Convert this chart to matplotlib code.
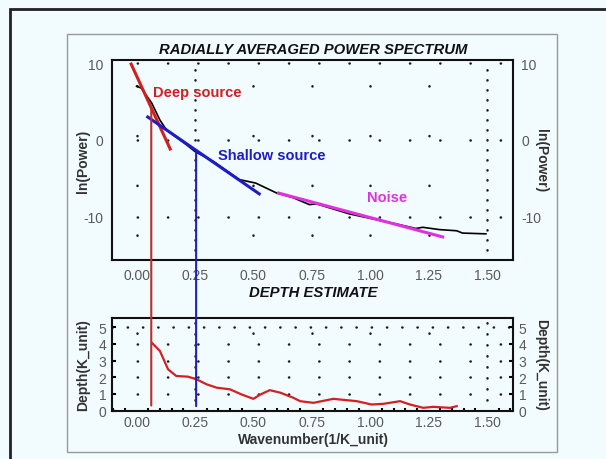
import matplotlib
matplotlib.use("Agg")
import matplotlib.pyplot as plt
from matplotlib.patches import Rectangle, ConnectionPatch
import numpy as np

plt.rcParams['font.family'] = ['Liberation Sans', 'DejaVu Sans']
plt.rcParams['axes.unicode_minus'] = False

# spectre radial moyen (ln P)
k_spec = [0.0, 0.02, 0.065, 0.10, 0.128, 0.213, 0.25, 0.33, 0.44, 0.51, 0.60,
          0.67, 0.74, 0.77, 0.91, 1.025, 1.11, 1.195, 1.225, 1.297, 1.37, 1.395, 1.495]
lnp = [7.0, 6.75, 4.8, 2.6, 1.3, -0.6, -1.5, -2.8, -5.15, -5.6, -6.9,
       -7.5, -8.4, -8.3, -9.6, -10.35, -10.9, -11.5, -11.35, -11.65, -11.8, -12.1, -12.2]

# droites ajustées
deep_x = [-0.023, 0.144]
deep_y = [9.87, -1.17]
shallow_x = [0.048, 0.525]
shallow_y = [2.99, -7.0]
noise_x = [0.608, 1.31]
noise_y = [-6.9, -12.6]

# estimation de profondeur
k_depth = [0.067, 0.10, 0.135, 0.17, 0.22, 0.257, 0.30, 0.343, 0.40, 0.45, 0.50, 0.53,
           0.57, 0.615, 0.67, 0.70, 0.757, 0.842, 0.942, 1.006, 1.056, 1.128, 1.17,
           1.227, 1.27, 1.341, 1.37]
depth = [4.04, 3.57, 2.47, 2.07, 2.03, 1.87, 1.57, 1.37, 1.27, 0.96, 0.70, 0.96,
         1.22, 1.07, 0.77, 0.56, 0.46, 0.70, 0.56, 0.36, 0.40, 0.56, 0.36,
         0.16, 0.22, 0.16, 0.26]

# coupures (wavenumber, ln P en haut, profondeur en bas)
cut_deep = (0.063, 4.0, 0.3)
cut_shallow = (0.255, -1.7, 0.26)

xticks = [0.0, 0.25, 0.5, 0.75, 1.0, 1.25, 1.5]
yticks_top = [-10, 0, 10]
yticks_bot = [0, 1, 2, 3, 4, 5]

bg = '#f2fbfd'
tick_col = '#5a5a5a'
lab_col = '#333333'

fig = plt.figure(figsize=(6.06, 4.6), dpi=100, facecolor=bg)
W, H = 606, 460

# cadres
fig.patches.append(Rectangle((10 / W, -0.05), 1.2, (460 - 10) / H + 0.05, transform=fig.transFigure,
                             fill=False, edgecolor='#222222', lw=2))
fig.patches.append(Rectangle((67 / W, (460 - 453) / H), (557 - 67) / W, (453 - 35) / H,
                             transform=fig.transFigure, fill=False, edgecolor='#9a9a9a', lw=1))

ax1 = fig.add_axes([112 / W, (460 - 261) / H, (513 - 112) / W, 200 / H], facecolor=bg)
ax2 = fig.add_axes([112 / W, (460 - 412) / H, (513 - 112) / W, 93 / H], facecolor=bg)

for ax in (ax1, ax2):
    ax.set_xlim(-0.105, 1.611)
    ax.set_xticks(xticks)
    ax.set_xticklabels([f'{v:.2f}' for v in xticks])
    for s in ax.spines.values():
        s.set_linewidth(1.5)
        s.set_color('#111111')
    ax.tick_params(labelleft=True, labelright=True, labelsize=10, labelcolor=tick_col,
                   length=0, pad=6)

ax1.set_ylim(-15.6, 10.4)
ax1.set_yticks(yticks_top)
ax2.set_ylim(-0.03, 5.55)
ax2.set_yticks(yticks_bot)
ax2.tick_params(axis='y', direction='in', length=3, left=True, right=True, width=1.5, pad=4)
ax2.tick_params(axis='x', pad=3)
ax2.set_xticks(np.arange(-0.1, 1.61, 0.05), minor=True)
ax2.tick_params(axis='x', which='minor', direction='in', length=2, width=1.5, bottom=True)

dot = dict(color='#1a1a1a', lw=1.8, dash_capstyle='round', zorder=1)

# grille pointillée du haut
for y in yticks_top:
    ax1.axhline(y, linestyle=(2, (0.1, 12.0)), **dot)
for x in xticks:
    if x in (0.25, 1.5):
        ax1.axvline(x, linestyle=(0, (0.1, 3.9)), **dot)
    else:
        ax1.axvline(x, linestyle=(10, (0.1, 19.8)), **dot)

# grille pointillée du bas
for y in yticks_bot:
    if y == 5:
        ax2.axhline(y, linestyle=(0, (0.1, 6.0)), **dot)
    elif y > 0:
        ax2.axhline(y, linestyle=(2, (0.1, 12.0)), **dot)
for x in xticks:
    if x in (0.25, 1.5):
        ax2.axvline(x, linestyle=(0, (0.1, 4.3)), **dot)
    else:
        ax2.axvline(x, linestyle=(3, (0.1, 34)), **dot)

# spectre et droites
ax1.plot(k_spec, lnp, color='black', lw=1.2, zorder=3)
ax1.plot(deep_x, deep_y, color='#d02020', lw=2.2, zorder=4)
ax1.plot(shallow_x, shallow_y, color='#1c1cc8', lw=2.2, zorder=4)
ax1.plot(noise_x, noise_y, color='#e030e0', lw=2.2, zorder=4)

ax1.text(0.07, 6.2, 'Deep source', color='#d02020', fontsize=10.5, fontweight='bold', va='center')
ax1.text(0.35, -1.9, 'Shallow source', color='#1c1cc8', fontsize=10.5, fontweight='bold', va='center')
ax1.text(0.986, -7.4, 'Noise', color='#e030e0', fontsize=10.5, fontweight='bold', va='center')

ax2.plot(k_depth, depth, color='#d42020', lw=1.6, zorder=3)

# traits verticaux traversant les deux graphes
for (kx, ytop, ybot), c in ((cut_deep, '#b83030'), (cut_shallow, '#2020c0')):
    con = ConnectionPatch(xyA=(kx, ytop), coordsA=ax1.transData,
                          xyB=(kx, ybot), coordsB=ax2.transData,
                          color=c, lw=1.5, zorder=5)
    fig.add_artist(con)

fig.text(313 / W, 1 - 50 / H, 'RADIALLY AVERAGED POWER SPECTRUM', ha='center', va='center',
         fontsize=10.7, fontweight='bold', fontstyle='italic', color='#111111')
fig.text(313 / W, 1 - 293 / H, 'DEPTH ESTIMATE', ha='center', va='center',
         fontsize=10.7, fontweight='bold', fontstyle='italic', color='#111111')
fig.text(313 / W, 1 - 440 / H, 'Wavenumber(1/K_unit)', ha='center', va='center',
         fontsize=10, fontweight='bold', color=lab_col)
fig.text(83 / W, 1 - 161 / H, 'ln(Power)', ha='center', va='center', rotation=90,
         fontsize=10, fontweight='bold', color=lab_col)
fig.text(541 / W, 1 - 161 / H, 'ln(Power)', ha='center', va='center', rotation=270,
         fontsize=10, fontweight='bold', color=lab_col)
fig.text(83 / W, 1 - 365 / H, 'Depth(K_unit)', ha='center', va='center', rotation=90,
         fontsize=10, fontweight='bold', color=lab_col)
fig.text(541 / W, 1 - 365 / H, 'Depth(K_unit)', ha='center', va='center', rotation=270,
         fontsize=10, fontweight='bold', color=lab_col)

fig.savefig('out.png', dpi=100, facecolor=bg)
